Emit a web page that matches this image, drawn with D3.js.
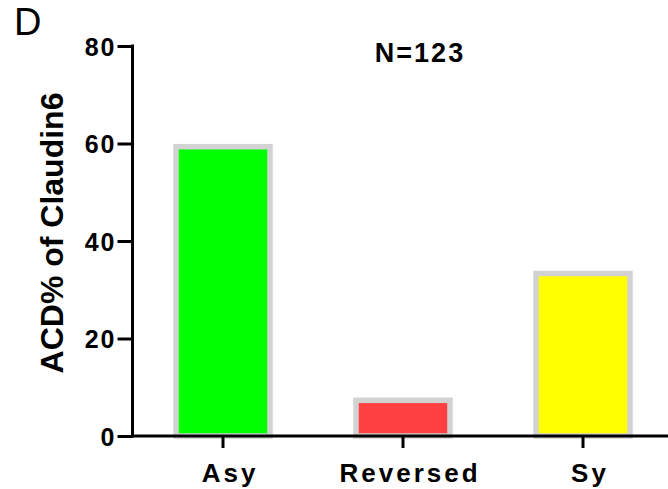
<!DOCTYPE html>
<html>
<head>
<meta charset="utf-8">
<script src="https://cdn.jsdelivr.net/npm/d3@7"></script>
<style>
  html, body { margin: 0; padding: 0; background: #fff; }
  svg { display: block; font-family: "Liberation Sans", Arial, Helvetica, sans-serif; }
</style>
</head>
<body>
<svg id="chart" width="668" height="489"></svg>
<script>
// ACD% of Claudin6 by division type (N = 123)
const categories = ["Asy", "Reversed", "Sy"];
const values = [59.35, 7.32, 33.33];
const barColors = ["#00ff00", "#ff4040", "#ffff00"];
const yTicks = [0, 20, 40, 60, 80];
const panelLabel = "D";
const title = "N=123";
const yLabel = "ACD% of Claudin6";

const svg = d3.select("#chart");
const W = 668;

const x = d3.scaleBand()
  .domain(categories)
  .range([133, 673])
  .paddingInner(0.478)
  .paddingOuter(0.239);

const y = d3.scaleLinear().domain([0, 80]).range([436, 46]);

// Bars with light grey outline
svg.append("g")
  .selectAll("rect")
  .data(categories)
  .join("rect")
  .attr("x", d => x(d))
  .attr("y", (d, i) => y(values[i]))
  .attr("width", x.bandwidth())
  .attr("height", (d, i) => y(0) - y(values[i]))
  .attr("fill", (d, i) => barColors[i])
  .attr("stroke", "#d2d2d2")
  .attr("stroke-width", 5.5);

// Y axis
const yAxis = svg.append("g")
  .attr("transform", "translate(132.5,0)")
  .call(d3.axisLeft(y).tickValues(yTicks).tickSize(15).tickSizeOuter(0).tickPadding(3));
yAxis.select(".domain").attr("stroke-width", 3).attr("d", `M0,${y(80) - 1.5}V${y(0) + 1.5}`);
yAxis.selectAll(".tick line").attr("stroke-width", 3);
yAxis.selectAll(".tick text")
  .attr("font-size", 25)
  .attr("font-weight", "bold")
  .attr("letter-spacing", 2)
  .attr("fill", "#000")
  .attr("dx", 2)
  .attr("dy", "0.36em");

// X axis
const xAxis = svg.append("g")
  .attr("transform", `translate(0,${y(0)})`)
  .call(d3.axisBottom(x).tickSize(12).tickSizeOuter(0).tickPadding(10));
xAxis.select(".domain").attr("stroke-width", 3).attr("d", `M131,0H${W}`);
xAxis.selectAll(".tick line").attr("stroke-width", 3);
xAxis.selectAll(".tick text")
  .attr("font-size", 26)
  .attr("font-weight", "bold")
  .attr("letter-spacing", 3)
  .attr("fill", "#000")
  .attr("dx", 7)
  .attr("dy", "0.92em");

// Title
svg.append("text")
  .attr("x", 420)
  .attr("y", 62)
  .attr("text-anchor", "middle")
  .attr("font-size", 27)
  .attr("font-weight", "bold")
  .attr("letter-spacing", 2)
  .text(title);

// Y axis title
svg.append("text")
  .attr("transform", "translate(63,233) rotate(-90)")
  .attr("text-anchor", "middle")
  .attr("font-size", 32)
  .attr("font-weight", "bold")
  .text(yLabel);

// Panel letter
svg.append("text")
  .attr("x", 14)
  .attr("y", 35)
  .attr("font-size", 38)
  .text(panelLabel);
</script>
</body>
</html>
